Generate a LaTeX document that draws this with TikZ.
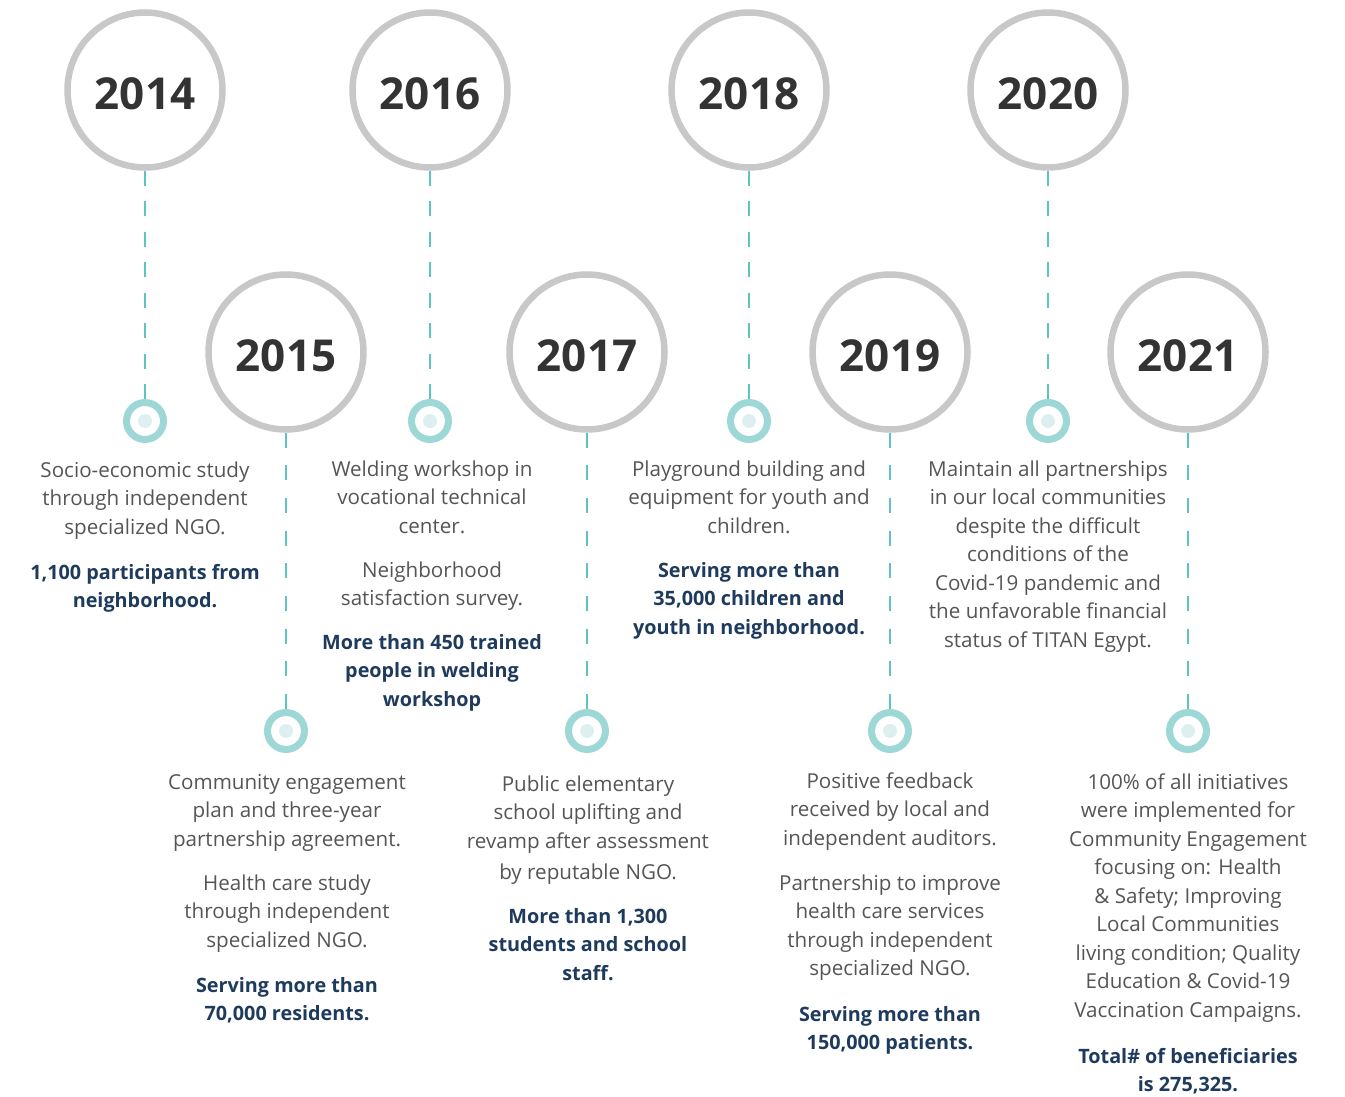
\documentclass[tikz,border=0pt]{standalone}
\usepackage{fontspec}
\setmainfont{Open Sans}
\definecolor{ringgray}{HTML}{C8C8C8}
\definecolor{teal}{HTML}{5EC4C1}
\definecolor{lteal}{HTML}{9ED8D6}
\definecolor{pale}{HTML}{DDF0EF}
\definecolor{yeartxt}{HTML}{333333}
\definecolor{bodytxt}{HTML}{555555}
\definecolor{navy}{HTML}{1E3A5C}
\tikzset{
  year/.style={circle, draw=ringgray, line width=6.5pt, minimum size=155pt, inner sep=0pt, fill=white,
    text height=39pt, text depth=0pt,
    font=\fontsize{44}{50}\selectfont\bfseries, text=yeartxt},
  ring/.style={circle, draw=lteal, line width=7pt, minimum size=37pt, inner sep=0pt, fill=white},
  dot/.style={circle, fill=pale, minimum size=14pt, inner sep=0pt},
  linktop/.style={draw=teal, line width=2.9pt, dash pattern=on 15pt off 15.46pt},
  linkbot/.style={draw=teal, line width=2.9pt, dash pattern=on 15pt off 17.66pt},
  body/.style={anchor=north, align=center, inner sep=0pt, text=bodytxt, font=\fontsize{20.6}{28.5}\selectfont},
  hl/.style={anchor=north, align=center, inner sep=0pt, text=navy, font=\fontsize{19.8}{28.5}\selectfont\bfseries},
}
\begin{document}
\begin{tikzpicture}[x=1pt,y=-1pt]
\useasboundingbox (0,0) rectangle (1345,1097);
% top row
\node[year] (y14) at (145,90) {2014};
\node[year] (y16) at (430,90) {2016};
\node[year] (y18) at (749,90) {2018};
\node[year] (y20) at (1048,90) {2020};
% bottom row
\node[year] (y15) at (286,352) {2015};
\node[year] (y17) at (587,352) {2017};
\node[year] (y19) at (890,352) {2019};
\node[year] (y21) at (1188,352) {2021};
% rings
\node[ring] (r14) at (145,421) {};
\node[ring] (r16) at (430,421) {};
\node[ring] (r18) at (749,421) {};
\node[ring] (r20) at (1048,421) {};
\node[ring] (r15) at (286,731) {};
\node[ring] (r17) at (587,731) {};
\node[ring] (r19) at (890,731) {};
\node[ring] (r21) at (1188,731) {};
\foreach \r in {14,15,16,17,18,19,20,21}{
  \node[dot] (d\r) at (r\r) {};
}
\foreach \r in {14,16,18,20}{
  \draw[linktop] (y\r.south) -- (r\r.north);
}
\foreach \r in {15,17,19,21}{
  \draw[linkbot] (y\r.south) -- (r\r.north);
}
% texts 2014
\node[body] (t14a) at (145,457) {\strut Socio-economic study\\through independent\\specialized NGO.};
\node[hl] (t14b) at (145,559) {\strut 1,100 participants from\\neighborhood.};
% 2016
\node[body] (t16a) at (432,456) {\strut Welding workshop in\\vocational technical\\center.};
\node[body] (t16b) at (432,557) {\strut Neighborhood\\satisfaction survey.};
\node[hl] (t16c) at (432,629) {\strut More than 450 trained\\people in welding\\workshop};
% 2018
\node[body] (t18a) at (749,456) {\strut Playground building and\\equipment for youth and\\children.};
\node[hl] (t18b) at (749,557) {\strut Serving more than\\35,000 children and\\youth in neighborhood.};
% 2020
\node[body] (t20a) at (1048,456) {\strut Maintain all partnerships\\in our local communities\\despite the difficult\\conditions of the\\Covid-19 pandemic and\\the unfavorable financial\\status of TITAN Egypt.};
% 2015
\node[body] (t15a) at (287,769) {\strut Community engagement\\plan and three-year\\partnership agreement.};
\node[body] (t15b) at (287,870) {\strut Health care study\\through independent\\specialized NGO.};
\node[hl] (t15c) at (287,972) {\strut Serving more than\\70,000 residents.};
% 2017
\node[body] (t17a) at (588,771) {\strut Public elementary\\school uplifting and\\revamp after assessment};
\node[body] (t17b) at (588,859) {\strut by reputable NGO.};
\node[hl] (t17c) at (588,903) {\strut More than 1,300\\students and school\\staff.};
% 2019
\node[body] (t19a) at (890,768) {\strut Positive feedback\\received by local and\\independent auditors.};
\node[body] (t19b) at (890,870) {\strut Partnership to improve\\health care services\\through independent\\specialized NGO.};
\node[hl] (t19c) at (890,1001) {\strut Serving more than\\150,000 patients.};
% 2021
\node[body] (t21a) at (1188,769) {\strut 100\% of all initiatives\\were implemented for\\Community Engagement\\focusing on: Health\\\& Safety; Improving\\Local Communities\\living condition; Quality\\Education \& Covid-19\\Vaccination Campaigns.};
\node[hl] (t21b) at (1188,1043) {\strut Total\# of beneficiaries\\is 275,325.};
\end{tikzpicture}
\end{document}
